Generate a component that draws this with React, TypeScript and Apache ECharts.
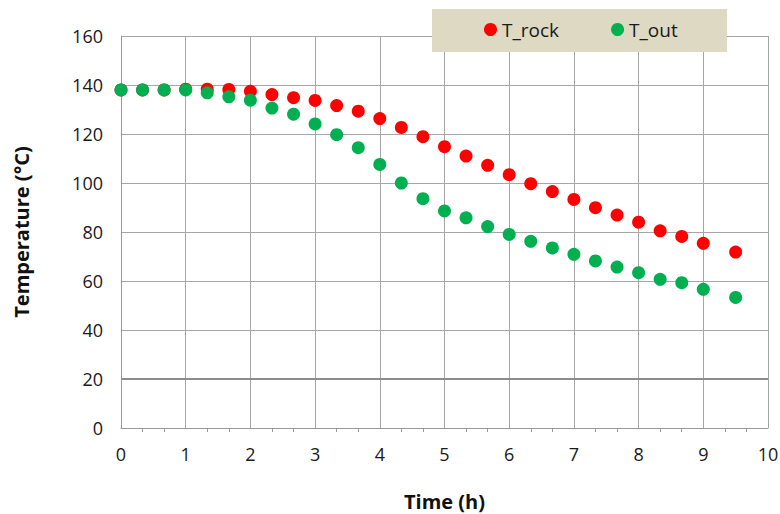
import React, { useEffect, useRef } from "react";
import * as echarts from "echarts";

const timeH = [0, 0.333, 0.667, 1, 1.333, 1.667, 2, 2.333, 2.667, 3, 3.333, 3.667, 4, 4.333, 4.667, 5, 5.333, 5.667, 6, 6.333, 6.667, 7, 7.333, 7.667, 8, 8.333, 8.667, 9, 9.5];
const tRock = [138.0, 138.0, 138.0, 138.3, 138.3, 138.2, 137.4, 136.1, 134.8, 133.7, 131.6, 129.3, 126.3, 122.7, 118.9, 114.8, 111.0, 107.2, 103.4, 99.7, 96.5, 93.3, 89.9, 86.9, 84.0, 80.5, 78.2, 75.4, 71.8];
const tOut = [138.0, 138.0, 138.0, 138.0, 136.8, 135.2, 133.8, 130.6, 128.1, 124.1, 119.7, 114.4, 107.6, 100.0, 93.6, 88.6, 85.8, 82.2, 79.0, 76.2, 73.5, 70.9, 68.2, 65.7, 63.4, 60.7, 59.3, 56.6, 53.3];

const FONT = "'Open Sans', 'Noto Sans', sans-serif";

export default function App() {
  const ref = useRef<HTMLDivElement>(null);
  useEffect(() => {
    if (!ref.current) return;
    const chart = echarts.init(ref.current, null, { renderer: "svg" });
    chart.setOption({
      animation: false,
      backgroundColor: "#ffffff",
      grid: {
        left: 121,
        right: 12,
        top: 36,
        bottom: 86,
        containLabel: false,
        outerBoundsMode: "none",
      },
      graphic: [
        {
          type: "rect",
          z: 5,
          shape: { x: 432, y: 9, width: 295, height: 43 },
          style: { fill: "#ddd9c3" },
        },
      ],
      legend: {
        z: 10,
        left: 484,
        top: 20,
        padding: 0,
        icon: "circle",
        itemWidth: 13,
        itemHeight: 13,
        itemGap: 52,
        textStyle: { fontFamily: FONT, fontSize: 19, color: "#1a1a1a" },
        data: ["T_rock", "T_out"],
      },
      xAxis: {
        type: "value",
        min: 0,
        max: 10,
        interval: 1,
        name: "Time (h)",
        nameLocation: "middle",
        nameGap: 63,
        nameTextStyle: { fontFamily: FONT, fontSize: 20, fontWeight: "bold", color: "#111" },
        axisLine: { show: true, lineStyle: { color: "#999", width: 1 } },
        axisTick: { show: false },
        minorTick: { show: true, splitNumber: 3, length: 4, lineStyle: { color: "#999" } },
        axisLabel: { fontFamily: FONT, fontSize: 18, color: "#1a1a1a", margin: 17 },
        splitLine: { show: true, lineStyle: { color: "#a6a6a6", width: 1 } },
      },
      yAxis: {
        type: "value",
        min: 0,
        max: 160,
        interval: 20,
        name: "Temperature (°C)",
        nameLocation: "middle",
        nameGap: 90,
        nameTextStyle: { fontFamily: FONT, fontSize: 20, fontWeight: "bold", color: "#111" },
        axisLine: { show: true, lineStyle: { color: "#999", width: 1 } },
        axisTick: { show: false },
        axisLabel: { fontFamily: FONT, fontSize: 18, color: "#1a1a1a", margin: 18 },
        splitLine: { show: true, lineStyle: { color: "#a6a6a6", width: 1 } },
      },
      series: [
        {
          name: "T_rock",
          type: "scatter",
          symbol: "circle",
          symbolSize: 13,
          itemStyle: { color: "#ff0000", opacity: 1 },
          data: timeH.map((t, i) => [t, tRock[i]]),
          markLine: {
            silent: true,
            symbol: "none",
            label: { show: false },
            lineStyle: { color: "#8c8c8c", width: 2, type: "solid" },
            data: [{ yAxis: 20 }],
          },
        },
        {
          name: "T_out",
          type: "scatter",
          symbol: "circle",
          symbolSize: 13,
          itemStyle: { color: "#00b050", opacity: 1 },
          data: timeH.map((t, i) => [t, tOut[i]]),
        },
      ],
    });
    return () => chart.dispose();
  }, []);
  return (
    <div
      ref={ref}
      style={{ position: "absolute", left: 0, top: 0, width: 780, height: 514 }}
    />
  );
}
